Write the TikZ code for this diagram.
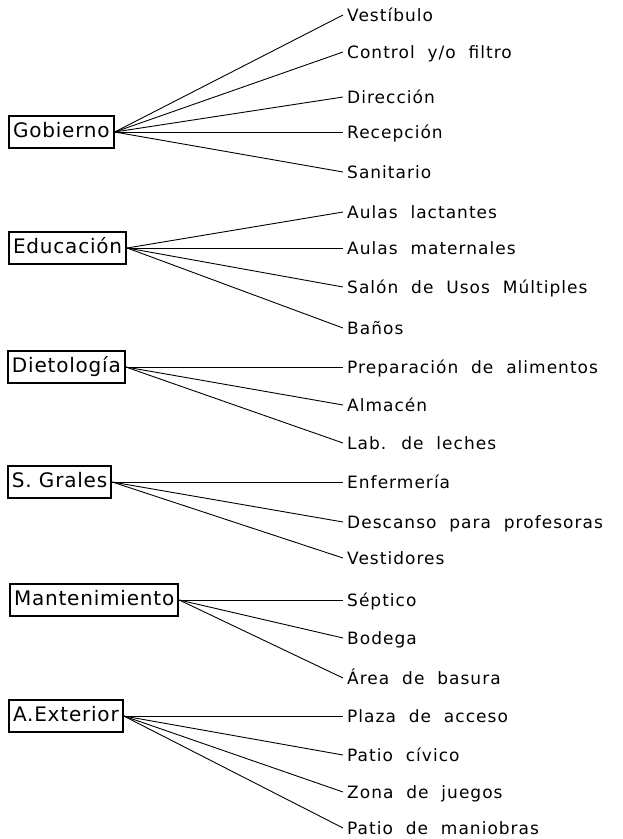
\documentclass[tikz,border=0pt]{standalone}
\usepackage{fontspec}
\usepackage{tikz}
\newfontfamily\boxfont[LetterSpace=4]{DejaVu Sans}
\newfontfamily\lblfont[LetterSpace=6,WordSpace=2]{DejaVu Sans}

\begin{document}
\begin{tikzpicture}[x=1pt,y=-1pt,
		area/.style={draw,line width=2pt,anchor=west,font={\boxfont\fontsize{20}{24}\selectfont},text height=15pt,text depth=5pt,inner xsep=4pt,inner ysep=6pt},
		espacio/.style={anchor=west,font={\lblfont\fontsize{17}{20}\selectfont},text height=12pt,text depth=0pt,inner xsep=4pt,inner ysep=0pt},
		rama/.style={line width=0.9pt}]
				\useasboundingbox (0,0) rectangle (622,839);
				
				\node[area] (gob) at (8,132) {Gobierno};
				\node[area] (edu) at (8,248) {Educación};
				\node[area] (diet) at (7,367) {Dietología};
				\node[area] (sgr) at (7,482) {S. Grales};
				\node[area] (mant) at (9,600) {Mantenimiento};
				\node[area] (aext) at (8,716) {A.Exterior};
				
				\node[espacio] (vest) at (343,15) {Vestíbulo};
				\node[espacio] (ctrl) at (343,52) {Control y/o filtro};
				\node[espacio] (dir) at (343,97) {Dirección};
				\node[espacio] (rec) at (343,132) {Recepción};
				\node[espacio] (san) at (343,172) {Sanitario};
				\node[espacio] (lact) at (343,212) {Aulas lactantes};
				\node[espacio] (mat) at (343,248) {Aulas maternales};
				\node[espacio] (sum) at (343,287) {Salón de Usos Múltiples};
				\node[espacio] (ban) at (343,328) {Baños};
				\node[espacio] (prep) at (343,367) {Preparación de alimentos};
				\node[espacio] (alm) at (343,405) {Almacén};
				\node[espacio] (lab) at (343,443) {Lab. de leches};
				\node[espacio] (enf) at (343,482) {Enfermería};
				\node[espacio] (desc) at (343,522) {Descanso para profesoras};
				\node[espacio] (vestd) at (343,558) {Vestidores};
				\node[espacio] (sept) at (343,600) {Séptico};
				\node[espacio] (bod) at (343,638) {Bodega};
				\node[espacio] (bas) at (343,678) {Área de basura};
				\node[espacio] (plaza) at (343,716) {Plaza de acceso};
				\node[espacio] (civ) at (343,755) {Patio cívico};
				\node[espacio] (jue) at (343,792) {Zona de juegos};
				\node[espacio] (mani) at (343,828) {Patio de maniobras};
				
				\draw[rama] (gob.east) -- (vest.west);
				\draw[rama] (gob.east) -- (ctrl.west);
				\draw[rama] (gob.east) -- (dir.west);
				\draw[rama] (gob.east) -- (rec.west);
				\draw[rama] (gob.east) -- (san.west);
				
				\draw[rama] (edu.east) -- (lact.west);
				\draw[rama] (edu.east) -- (mat.west);
				\draw[rama] (edu.east) -- (sum.west);
				\draw[rama] (edu.east) -- (ban.west);
				
				\draw[rama] (diet.east) -- (prep.west);
				\draw[rama] (diet.east) -- (alm.west);
				\draw[rama] (diet.east) -- (lab.west);
				
				\draw[rama] (sgr.east) -- (enf.west);
				\draw[rama] (sgr.east) -- (desc.west);
				\draw[rama] (sgr.east) -- (vestd.west);
				
				\draw[rama] (mant.east) -- (sept.west);
				\draw[rama] (mant.east) -- (bod.west);
				\draw[rama] (mant.east) -- (bas.west);
				
				\draw[rama] (aext.east) -- (plaza.west);
				\draw[rama] (aext.east) -- (civ.west);
				\draw[rama] (aext.east) -- (jue.west);
				\draw[rama] (aext.east) -- (mani.west);
			\end{tikzpicture}
\end{document}
